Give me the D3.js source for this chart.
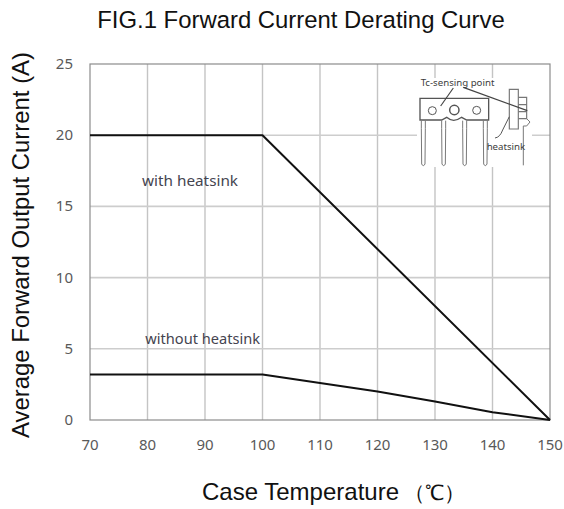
<!DOCTYPE html>
<html>
<head>
<meta charset="utf-8">
<script src="https://cdn.jsdelivr.net/npm/d3@7"></script>
<style>
  html, body { margin: 0; padding: 0; background: #fff; }
  svg { display: block; }
  .cap { font-family: "Liberation Sans", Arial, sans-serif; fill: #111; }
  .tick-label { font-family: "Noto Sans", sans-serif; font-size: 15px; fill: #595959; }
  .note { font-family: "Noto Sans", sans-serif; fill: #44444f; }
  .inset-text { font-family: "Noto Sans", sans-serif; font-size: 29px; fill: #3c3c3c; }
</style>
</head>
<body>
<script>
const xTicks = [70, 80, 90, 100, 110, 120, 130, 140, 150];
const yTicks = [0, 5, 10, 15, 20, 25];
const withHeatsink = [[70, 20], [100, 20], [150, 0]];
const withoutHeatsink = [[70, 3.2], [100, 3.2], [110, 2.6], [120, 2.0], [130, 1.3], [140, 0.55], [150, 0]];

const width = 564, height = 509;
const m = { top: 64, right: 14, bottom: 89, left: 90 };

const svg = d3.select("body").append("svg")
  .attr("width", width).attr("height", height);

const x = d3.scaleLinear([70, 150], [m.left, width - m.right]);
const y = d3.scaleLinear([0, 25], [height - m.bottom, m.top]);

// grid
svg.append("g").selectAll("line").data(xTicks.slice(1, -1)).join("line")
  .attr("x1", d => x(d)).attr("x2", d => x(d))
  .attr("y1", y(25)).attr("y2", y(0))
  .attr("stroke", "#c4c4c4").attr("stroke-width", 1.4);
svg.append("g").selectAll("line").data(yTicks.slice(1, -1)).join("line")
  .attr("x1", x(70)).attr("x2", x(150))
  .attr("y1", d => y(d)).attr("y2", d => y(d))
  .attr("stroke", "#cdcdcd").attr("stroke-width", 1.6);

// frame
svg.append("rect")
  .attr("x", x(70)).attr("y", y(25))
  .attr("width", x(150) - x(70)).attr("height", y(0) - y(25))
  .attr("fill", "none").attr("stroke", "#8c8c8c").attr("stroke-width", 1.2);

// tick labels
svg.append("g").selectAll("text").data(xTicks).join("text")
  .attr("class", "tick-label").attr("text-anchor", "middle")
  .attr("x", d => x(d)).attr("y", y(0) + 30).text(d => d);
svg.append("g").selectAll("text").data(yTicks).join("text")
  .attr("class", "tick-label").attr("text-anchor", "end")
  .attr("x", x(70) - 17).attr("y", d => y(d) + 5).text(d => d);

// inset picture of the part, sketched in zoomed-crop units
const inset = svg.append("g").attr("transform", "translate(400,60) scale(0.3333)");
inset.append("rect").attr("x", 51).attr("y", 54).attr("width", 345).attr("height", 267).attr("fill", "#fff");
const sketch = (d, w = 3, c = "#666") => inset.append("path").attr("d", d)
  .attr("fill", "none").attr("stroke", c).attr("stroke-width", w);
sketch("M60 115H266V180H200L185 172Q160 190 140 172L125 180H60Z", 4, "#555");
[[97, 152, 12], [163, 150, 14], [230, 151, 12]].forEach(([cx, cy, r]) =>
  inset.append("circle").attr("cx", cx).attr("cy", cy).attr("r", r)
    .attr("fill", "none").attr("stroke", "#555").attr("stroke-width", r > 12 ? 4.5 : 3));
[70, 131, 194, 256].forEach(px => {
  sketch(`M${px - 6} 182V205L${px - 5} 312Q${px} 322 ${px + 5} 312L${px + 6} 205V182`, 3, "#777");
});
sketch("M328 88H355V207H328Z", 3.5, "#777");
sketch("M355 112H380V176H355M355 134H380M355 155H380", 3.5, "#777");
sketch("M380 176L390 186L380 198H370V316", 3, "#777");
sketch("M160 84L122 138", 3.5, "#444");
sketch("M190 82L382 152", 3.5, "#444");
sketch("M328 170L308 210Q300 232 285 234", 3, "#555");
inset.append("text").attr("class", "inset-text").attr("x", 62).attr("y", 78).text("Tc-sensing point");
inset.append("text").attr("class", "inset-text").attr("x", 260).attr("y", 270).text("heatsink");

// curves
const line = d3.line().x(d => x(d[0])).y(d => y(d[1]));
[withHeatsink, withoutHeatsink].forEach(s => {
  svg.append("path").attr("d", line(s))
    .attr("fill", "none").attr("stroke", "#111").attr("stroke-width", 2)
    .attr("stroke-linejoin", "round");
});

// curve notes
svg.append("text").attr("class", "note").attr("font-size", 15.3)
  .attr("x", x(87.4)).attr("y", y(16.8) + 5)
  .attr("text-anchor", "middle").text("with heatsink");
svg.append("text").attr("class", "note").attr("font-size", 14.6)
  .attr("x", x(89.6)).attr("y", y(5.7) + 5)
  .attr("text-anchor", "middle").text("without heatsink");

// captions
svg.append("text").attr("class", "cap").attr("x", 301).attr("y", 28)
  .attr("text-anchor", "middle").attr("font-size", 23.9).text("FIG.1 Forward Current Derating Curve");
svg.append("text").attr("class", "cap").attr("x", 202).attr("y", 500)
  .attr("font-size", 24).text("Case Temperature");
svg.append("text").attr("class", "cap").attr("x", 404).attr("y", 500)
  .attr("font-size", 21).attr("font-family", "Noto Sans CJK SC").attr("fill", "#222").text("（℃）");
svg.append("text").attr("class", "cap")
  .attr("transform", "translate(29,245) rotate(-90)")
  .attr("text-anchor", "middle").attr("font-size", 23.9).text("Average Forward Output Current (A)");
</script>
</body>
</html>
